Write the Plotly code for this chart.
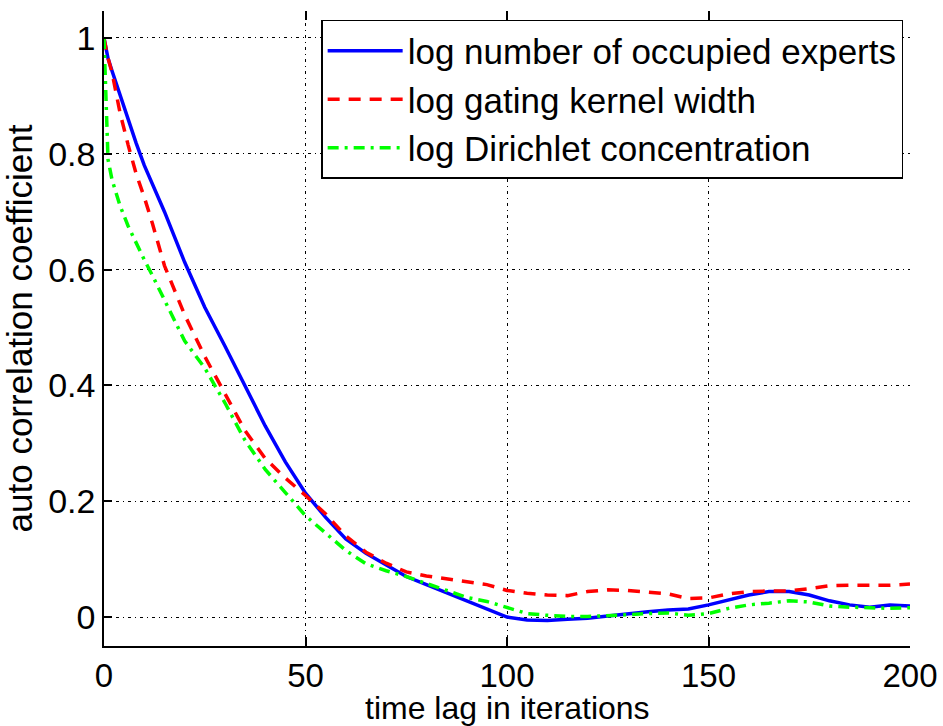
import plotly.graph_objects as go

# Time lags (iterations) at which the autocorrelation was evaluated
lags = [0, 1, 2, 4, 6, 8, 10, 12, 15, 20, 25, 30, 35, 40, 45, 50, 55, 60, 65,
        70, 75, 80, 85, 90, 95, 100, 105, 110, 115, 120, 125, 130, 135, 140,
        145, 150, 155, 160, 165, 170, 175, 180, 185, 190, 195, 200]

acf_experts = [1.0, 0.965, 0.943, 0.90, 0.86, 0.818, 0.78, 0.747, 0.70, 0.613,
               0.535, 0.468, 0.40, 0.33, 0.268, 0.214, 0.172, 0.135, 0.11,
               0.09, 0.07, 0.056, 0.042, 0.027, 0.013, 0.0, -0.005, -0.006,
               -0.004, -0.002, 0.002, 0.006, 0.009, 0.012, 0.014, 0.021,
               0.030, 0.038, 0.044, 0.044, 0.038, 0.028, 0.021, 0.017, 0.021,
               0.019]

acf_kernel = [1.0, 0.965, 0.94, 0.87, 0.815, 0.765, 0.725, 0.68, 0.607, 0.522,
              0.45, 0.385, 0.322, 0.274, 0.24, 0.21, 0.178, 0.14, 0.112, 0.093,
              0.078, 0.071, 0.066, 0.062, 0.056, 0.046, 0.041, 0.038, 0.037,
              0.044, 0.047, 0.046, 0.043, 0.040, 0.032, 0.033, 0.040, 0.044,
              0.045, 0.045, 0.049, 0.054, 0.055, 0.055, 0.055, 0.057]

acf_dirichlet = [1.0, 0.79, 0.755, 0.71, 0.675, 0.645, 0.617, 0.59, 0.547,
                 0.477, 0.43, 0.37, 0.305, 0.255, 0.215, 0.175, 0.145, 0.115,
                 0.092, 0.08, 0.07, 0.058, 0.045, 0.034, 0.027, 0.016, 0.006,
                 0.003, 0.001, 0.001, 0.002, 0.004, 0.006, 0.007, 0.003,
                 0.006, 0.015, 0.021, 0.024, 0.028, 0.026, 0.019, 0.017,
                 0.016, 0.015, 0.016]

x_ticks = [0, 50, 100, 150, 200]
y_ticks = [0, 0.2, 0.4, 0.6, 0.8, 1]

FONT = "Liberation Sans, Arial, sans-serif"
GRID_DASH = "3px,4px,1px,4px"

fig = go.Figure()
fig.add_trace(go.Scatter(x=lags, y=acf_experts, mode="lines",
                         name="log number of occupied experts",
                         line=dict(color="#0000ff", width=3.5)))
fig.add_trace(go.Scatter(x=lags, y=acf_kernel, mode="lines",
                         name="log gating kernel width",
                         line=dict(color="#ff0000", width=3.5, dash="12px,9px")))
fig.add_trace(go.Scatter(x=lags, y=acf_dirichlet, mode="lines",
                         name="log Dirichlet concentration",
                         line=dict(color="#00ff00", width=3.5,
                                   dash="11px,6px,3px,6px")))
# invisible trace carrying the top-edge tick marks
fig.add_trace(go.Scatter(x=[0, 200], y=[None, None], xaxis="x2",
                         showlegend=False, hoverinfo="skip"))

fig.update_layout(
    width=943, height=726,
    margin=dict(l=104, r=33, t=11, b=80),
    paper_bgcolor="white", plot_bgcolor="white",
    font=dict(family=FONT, size=34, color="black"),
    xaxis=dict(range=[0, 200], tickvals=x_ticks, ticks="inside", ticklen=9,
               tickwidth=1.5, tickcolor="black", showline=True,
               linecolor="black", linewidth=1.5, showgrid=True,
               gridcolor="black", gridwidth=1, griddash=GRID_DASH,
               zeroline=False, tickfont=dict(size=33), automargin=False),
    xaxis2=dict(range=[0, 200], tickvals=x_ticks, overlaying="x", side="top",
                ticks="inside", ticklen=9, tickwidth=1.5, tickcolor="black",
                showticklabels=False, showline=False, showgrid=False,
                zeroline=False, automargin=False),
    yaxis=dict(range=[-0.05, 1.0466], tickvals=y_ticks, ticks="inside",
               ticklen=8, tickwidth=1.5, tickcolor="black", showline=True,
               linecolor="black", linewidth=1.5, showgrid=True,
               gridcolor="black", gridwidth=1, griddash=GRID_DASH,
               zeroline=False, tickfont=dict(size=34), automargin=False,
               title=dict(text="auto correlation coefficient",
                          font=dict(size=35), standoff=8)),
    legend=dict(x=0.9915, y=0.986, xanchor="right", yanchor="top",
                bgcolor="white", bordercolor="black", borderwidth=1.5,
                font=dict(size=35), tracegroupgap=0, itemwidth=75),
    showlegend=True,
)

# x-axis title placed just under the tick labels
fig.add_annotation(text="time lag in iterations", xref="paper", yref="paper",
                   x=0.5, y=-0.066, xanchor="center", yanchor="top",
                   showarrow=False, font=dict(size=32))

fig.write_html("out.html")
